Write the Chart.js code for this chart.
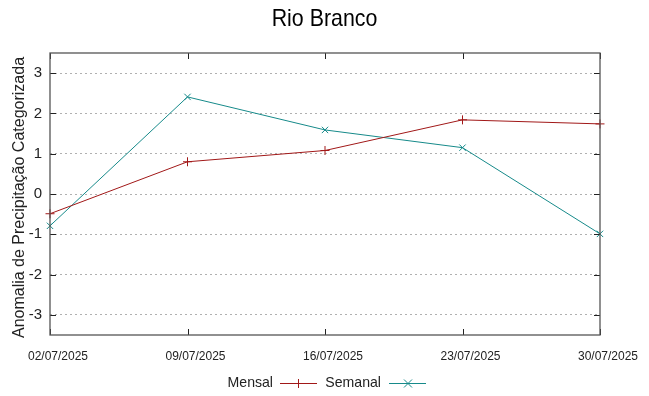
<!DOCTYPE html>
<html>
<head>
<meta charset="utf-8">
<script src="https://cdn.jsdelivr.net/npm/chart.js@4.4.1/dist/chart.umd.min.js"></script>
<style>
  html, body { margin: 0; padding: 0; background: #fff; }
  #wrap { width: 649px; height: 396px; }
</style>
</head>
<body>
<div id="wrap"><canvas id="myChart" width="649" height="396"></canvas></div>
<script>
/* data */
const datas = ['02/07/2025', '09/07/2025', '16/07/2025', '23/07/2025', '30/07/2025'];
const mensal = [-0.49, 0.80, 1.08, 1.84, 1.74];
const semanal = [-0.79, 2.41, 1.59, 1.15, -0.99];
const yTicks = [-3, -2, -1, 0, 1, 2, 3];

const corMensal = '#a11818';
const corSemanal = '#168a8a';
const fonte = '"Liberation Sans", Arial, sans-serif';

// condensed text helper
function textoNarrow(ctx, txt, x, y, sx, align) {
    ctx.save();
    ctx.translate(x, y);
    ctx.scale(sx, 1);
    ctx.textAlign = align;
    ctx.fillText(txt, 0, 0);
    ctx.restore();
}

/* plugin: title, legend, inner tick marks, frame */
const gnuStyle = {
    id: 'gnuStyle',
    afterDraw(chart) {
        const ctx = chart.ctx;
        const a = chart.chartArea;
        const x = chart.scales.x;
        const y = chart.scales.y;
        ctx.save();

        // inner ticks
        ctx.strokeStyle = '#222';
        ctx.lineWidth = 1;
        ctx.beginPath();
        yTicks.forEach(v => {
            const py = Math.round(y.getPixelForValue(v)) + 0.5;
            ctx.moveTo(a.left, py); ctx.lineTo(a.left + 6, py);
            ctx.moveTo(a.right, py); ctx.lineTo(a.right - 6, py);
        });
        datas.forEach((d, i) => {
            const px = Math.round(x.getPixelForValue(i)) + 0.5;
            ctx.moveTo(px, a.bottom); ctx.lineTo(px, a.bottom - 6);
            ctx.moveTo(px, a.top); ctx.lineTo(px, a.top + 6);
        });
        ctx.stroke();

        // frame
        ctx.strokeStyle = '#555';
        ctx.lineWidth = 1.3;
        ctx.strokeRect(a.left, a.top, a.right - a.left, a.bottom - a.top);

        // title
        ctx.fillStyle = '#000';
        ctx.font = '24px ' + fonte;
        ctx.textBaseline = 'alphabetic';
        textoNarrow(ctx, 'Rio Branco', 324.5, 26, 0.89, 'center');

        // y title
        ctx.fillStyle = '#222';
        ctx.font = '16px ' + fonte;
        ctx.save();
        ctx.translate(24, 197.5);
        ctx.rotate(-Math.PI / 2);
        ctx.textAlign = 'center';
        ctx.fillText('Anomalia de Precipitação Categorizada', 0, 0);
        ctx.restore();

        // legend
        const ly = 383;
        ctx.font = '15px ' + fonte;
        ctx.textBaseline = 'middle';
        textoNarrow(ctx, 'Mensal', 273, ly, 0.94, 'right');
        textoNarrow(ctx, 'Semanal', 381, ly, 0.94, 'right');

        ctx.lineWidth = 1;
        ctx.strokeStyle = corMensal;
        ctx.beginPath();
        ctx.moveTo(280, ly + 0.5); ctx.lineTo(317, ly + 0.5);
        ctx.moveTo(298.5, ly - 4); ctx.lineTo(298.5, ly + 5);
        ctx.stroke();

        ctx.strokeStyle = corSemanal;
        ctx.beginPath();
        ctx.moveTo(389, ly + 0.5); ctx.lineTo(426, ly + 0.5);
        ctx.moveTo(404, ly - 3.5); ctx.lineTo(412, ly + 4.5);
        ctx.moveTo(412, ly - 3.5); ctx.lineTo(404, ly + 4.5);
        ctx.stroke();

        ctx.restore();
    }
};

const ctx = document.getElementById('myChart').getContext('2d');
const myChart = new Chart(ctx, {
    type: 'line',
    data: {
        labels: datas,
        datasets: [{
            label: 'Mensal',
            data: mensal,
            borderColor: corMensal,
            backgroundColor: corMensal,
            borderWidth: 1,
            pointStyle: 'cross',
            pointRadius: 4.5,
            pointBorderWidth: 1,
            tension: 0,
            clip: false
        }, {
            label: 'Semanal',
            data: semanal,
            borderColor: corSemanal,
            backgroundColor: corSemanal,
            borderWidth: 1,
            pointStyle: 'crossRot',
            pointRadius: 4.5,
            pointBorderWidth: 1,
            tension: 0,
            clip: false
        }]
    },
    options: {
        responsive: false,
        animation: false,
        events: [],
        layout: { padding: { top: 53, right: 49, left: 0, bottom: 0 } },
        plugins: {
            legend: { display: false },
            title: { display: false },
            tooltip: { enabled: false }
        },
        scales: {
            x: {
                type: 'category',
                offset: false,
                grid: { display: false, drawTicks: false },
                border: { display: false },
                ticks: {
                    padding: 14,
                    labelOffset: 8,
                    maxRotation: 0,
                    autoSkip: false,
                    color: '#222',
                    font: { family: fonte, size: 12 }
                },
                afterFit: s => { s.height = 61; }
            },
            y: {
                min: -3.5,
                max: 3.5,
                afterBuildTicks: s => { s.ticks = yTicks.map(v => ({ value: v })); },
                grid: {
                    color: '#b0b0b0',
                    lineWidth: 1,
                    drawTicks: false
                },
                border: { display: false, dash: [2, 3] },
                ticks: {
                    padding: 8,
                    color: '#222',
                    font: { family: fonte, size: 15 }
                },
                afterFit: s => { s.width = 50; }
            }
        }
    },
    plugins: [gnuStyle]
});
</script>
</body>
</html>
